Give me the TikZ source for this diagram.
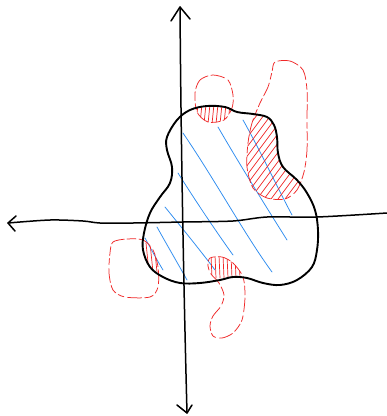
\documentclass[tikz,border=0pt]{standalone}
\usetikzlibrary{calc}
\definecolor{sketchblue}{RGB}{45,140,240}
\definecolor{sketchred}{RGB}{240,40,40}
\tikzset{
  axisline/.style={draw=black, line width=1.5pt, line cap=round, line join=round},
  blobline/.style={draw=black, line width=1.9pt, line cap=round, line join=round},
  bluehatch/.style={draw=sketchblue, line width=0.75pt, line cap=round},
  redoutline/.style={draw=sketchred, line width=0.75pt, line cap=round, dash pattern=on 9pt off 3pt on 14pt off 4pt on 6pt off 3pt},
  redhatch/.style={draw=sketchred, line width=0.7pt, line cap=round}
}
\def\blackblob{plot[smooth cycle, tension=0.6] coordinates {(177,120) (190,110) (207,106) (225,107) (237,112) (253,114) (267,117) (274,125) (277,137) (278,153) (283,167) (297,180) (307,193) (315,210) (318,230) (317,250) (312,267) (297,280) (280,285) (263,283) (247,278) (233,277) (220,280) (200,283) (180,283) (163,277) (150,267) (143,250) (144,233) (150,213) (160,197) (170,183) (172,167) (167,150) (167,137)}}
\def\redA{plot[smooth cycle] coordinates {(195,93) (200,80) (213,75) (228,80) (233,95) (232,108) (224,120) (208,122) (197,112)}}
\def\redB{plot[smooth cycle] coordinates {(275,62) (290,61) (303,70) (307,90) (307,120) (307,150) (304,172) (297,190) (285,199) (267,198) (253,188) (247,167) (248,143) (252,123) (260,103) (268,87) (272,72)}}
\def\redC{plot[smooth cycle] coordinates {(113,242) (127,239) (143,240) (153,250) (158,267) (158,287) (150,297) (125,297) (113,290) (109,273) (110,253)}}
\def\redD{plot[smooth cycle] coordinates {(210,258) (222,257) (233,263) (243,277) (245,297) (242,320) (233,333) (222,338) (213,336) (210,326) (213,316) (221,306) (224,295) (219,283) (211,274) (208,266)}}
\begin{document}
\begin{tikzpicture}[x=1pt, y=-1pt]
\useasboundingbox[fill=white] (0,0) rectangle (387,416);

% blue hatching inside the blob
\draw[bluehatch] (183,133) .. controls (215,180) and (245,235) .. (272,272);
\draw[bluehatch] (218,127) .. controls (240,165) and (265,205) .. (287,240);
\draw[bluehatch] (243,120) .. controls (260,150) and (276,185) .. (292,215);
\draw[bluehatch] (178,173) .. controls (195,200) and (215,230) .. (233,255);
\draw[bluehatch] (165,207) .. controls (182,228) and (200,250) .. (215,270);
\draw[bluehatch] (157,227) .. controls (167,245) and (177,262) .. (187,280);
\draw[bluehatch] (145,238) .. controls (151,249) and (157,260) .. (163,270);

% red hatching in the overlaps
\begin{scope}
  \clip \blackblob;
  \clip \redA;
  \foreach \x in {196,200,...,232} \draw[redhatch] (\x,124) -- (\x+2,104);
\end{scope}
\begin{scope}
  \clip \blackblob;
  \clip \redB;
  \foreach \x in {170,177,...,320} \draw[redhatch] (\x,203) -- (\x+75,103);
\end{scope}
\begin{scope}
  \clip \blackblob;
  \clip \redC;
  \foreach \x in {142,146,...,164} \draw[redhatch] (\x,243) -- (\x+3,272);
\end{scope}
\begin{scope}
  \clip \blackblob;
  \clip \redD;
  \foreach \x in {207,211,...,243} \draw[redhatch] (\x,255) -- (\x+1,278);
\end{scope}

% red dashed blobs
\draw[redoutline] \redA;
\draw[redoutline] \redB;
\draw[redoutline] \redC;
\draw[redoutline] \redD;

% axes
\coordinate (xl) at (8,223);
\coordinate (xr) at (387,213);
\coordinate (yt) at (180,7);
\coordinate (yb) at (187,413);
\draw[axisline] plot[smooth] coordinates {(387,213) (317,217) (267,217) (233,221) (183,222) (133,223) (100,223) (83,221) (50,220) (8,223)};
\draw[axisline] (16,216) -- (xl) -- (15,231);
\draw[axisline] (yt) .. controls (181,150) and (184,300) .. (yb);
\draw[axisline] (171,21) -- (yt) -- (190,19);
\draw[axisline] (177,405) -- (yb) -- (192,405);

% the black blob
\draw[blobline] \blackblob;
\end{tikzpicture}
\end{document}
